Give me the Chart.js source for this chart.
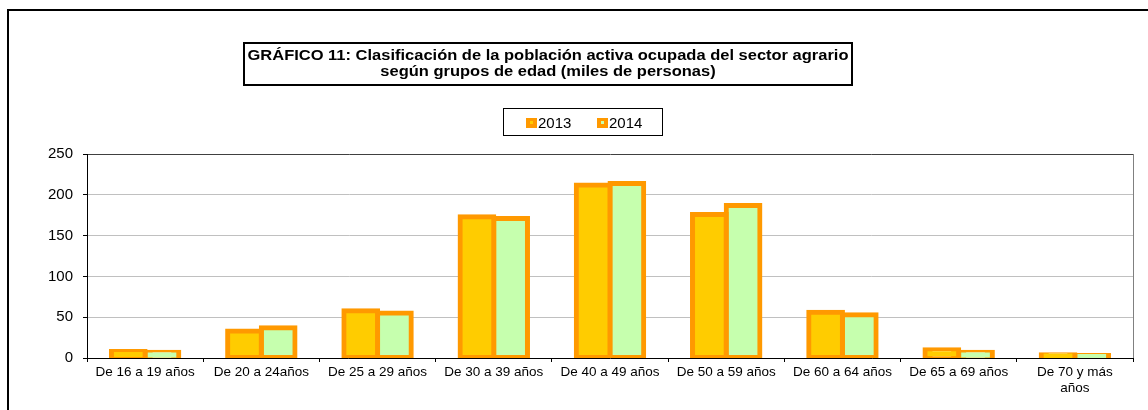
<!DOCTYPE html>
<html><head><meta charset="utf-8">
<script src="https://cdn.jsdelivr.net/npm/chart.js@4/dist/chart.umd.min.js"></script>
<style>html,body{margin:0;padding:0;background:#fff;overflow:hidden}#wrap{width:1148px;height:410px;position:relative}</style>
</head><body><div id="wrap"><canvas id="c" width="1148" height="410"></canvas></div>
<script>
const categories = ['De 16 a 19 años','De 20 a 24años','De 25 a 29 años','De 30 a 39 años','De 40 a 49 años','De 50 a 59 años','De 60 a 64 años','De 65 a 69 años',['De 70 y más','años']];
const series2013 = [8, 33, 58, 173, 212, 176, 56, 10, 4];
const series2014 = [7, 37, 55, 171, 214, 187, 53, 7, 3];
const seriesNames = ['2013', '2014'];
const yTickValues = [0, 50, 100, 150, 200, 250];
const titleLines = ['GRÁFICO 11: Clasificación de la población activa ocupada del sector agrario', 'según grupos de edad (miles de personas)'];

const FONT = "'Liberation Sans', Arial, sans-serif";

const decor = {
  id: 'decor',
  beforeDraw(chart) {
    const ctx = chart.ctx;
    ctx.save();
    ctx.fillStyle = '#fff';
    ctx.fillRect(0, 0, chart.width, chart.height);
    ctx.restore();
  },
  afterDraw(chart) {
    const ctx = chart.ctx;
    const a = chart.chartArea;
    ctx.save();
    // outer frame
    ctx.strokeStyle = '#000';
    ctx.lineWidth = 2;
    ctx.beginPath();
    ctx.moveTo(8, 420); ctx.lineTo(8, 10); ctx.lineTo(1160, 10);
    ctx.stroke();
    // plot right border
    ctx.strokeStyle = '#808080';
    ctx.lineWidth = 1;
    ctx.beginPath();
    ctx.moveTo(Math.round(a.right) + 0.5, a.top);
    ctx.lineTo(Math.round(a.right) + 0.5, a.bottom);
    ctx.stroke();
    // title box
    ctx.strokeStyle = '#000';
    ctx.lineWidth = 2;
    ctx.strokeRect(244, 43, 608, 42);
    ctx.fillStyle = '#000';
    ctx.font = 'bold 15.5px ' + FONT;
    ctx.textAlign = 'center';
    ctx.textBaseline = 'middle';
    const cx = 548;
    const w0 = ctx.measureText(titleLines[0]).width;
    const sx = Math.min(1.2, 601 / w0);
    titleLines.forEach((t, i) => {
      ctx.save();
      ctx.translate(cx, 56 + i * 16);
      ctx.scale(sx, 1);
      ctx.fillText(t, 0, 0);
      ctx.restore();
    });
    // legend
    ctx.strokeStyle = '#000';
    ctx.lineWidth = 1;
    ctx.strokeRect(503.5, 108.5, 159, 27);
    ctx.font = '15px ' + FONT;
    ctx.textAlign = 'left';
    ctx.textBaseline = 'middle';
    const xs = [526, 597];
    chart.data.datasets.forEach((ds, i) => {
      const x = xs[i];
      ctx.fillStyle = ds.borderColor;
      ctx.fillRect(x, 118, 11, 10);
      ctx.fillStyle = ds.backgroundColor;
      ctx.fillRect(x + 4, 121, 3, 3);
      ctx.fillStyle = '#000';
      ctx.fillText(ds.label, x + 12, 123.5);
    });
    ctx.restore();
  }
};

new Chart(document.getElementById('c'), {
  type: 'bar',
  data: {
    labels: categories,
    datasets: [
      { label: seriesNames[0], data: series2013, backgroundColor: '#FFCC00', borderColor: '#FF9900', borderWidth: 5, borderSkipped: false, inflateAmount: 2.5, categoryPercentage: 0.58, barPercentage: 1.0 },
      { label: seriesNames[1], data: series2014, backgroundColor: '#C6FFAE', borderColor: '#FF9900', borderWidth: 5, borderSkipped: false, inflateAmount: 2.5, categoryPercentage: 0.58, barPercentage: 1.0 }
    ]
  },
  options: {
    responsive: false,
    devicePixelRatio: 1,
    animation: false,
    layout: { padding: { top: 154, right: 15, left: 0, bottom: 0 } },
    plugins: { legend: { display: false }, title: { display: false }, tooltip: { enabled: false } },
    scales: {
      x: {
        afterFit(s) { s.height = 52; },
        border: { display: true, color: '#000', width: 1 },
        grid: { offset: true, drawOnChartArea: false, drawTicks: true, tickLength: 4, tickColor: '#000' },
        ticks: { autoSkip: false, maxRotation: 0, minRotation: 0, padding: 3, color: '#000', font: { family: FONT, size: 13.5, lineHeight: 1.15 } }
      },
      y: {
        min: 0, max: 250,
        afterFit(s) { s.width = 87; },
        afterBuildTicks(s) { s.ticks = yTickValues.map(v => ({ value: v })); },
        border: { display: true, color: '#000', width: 1 },
        grid: { color: (c) => (c.tick && c.tick.value === 250) ? '#404040' : '#C0C0C0', tickColor: '#000', tickLength: 4 },
        ticks: { stepSize: 50, padding: 10, color: '#000', font: { family: FONT, size: 15 } }
      }
    }
  },
  plugins: [decor]
});
</script></body></html>
